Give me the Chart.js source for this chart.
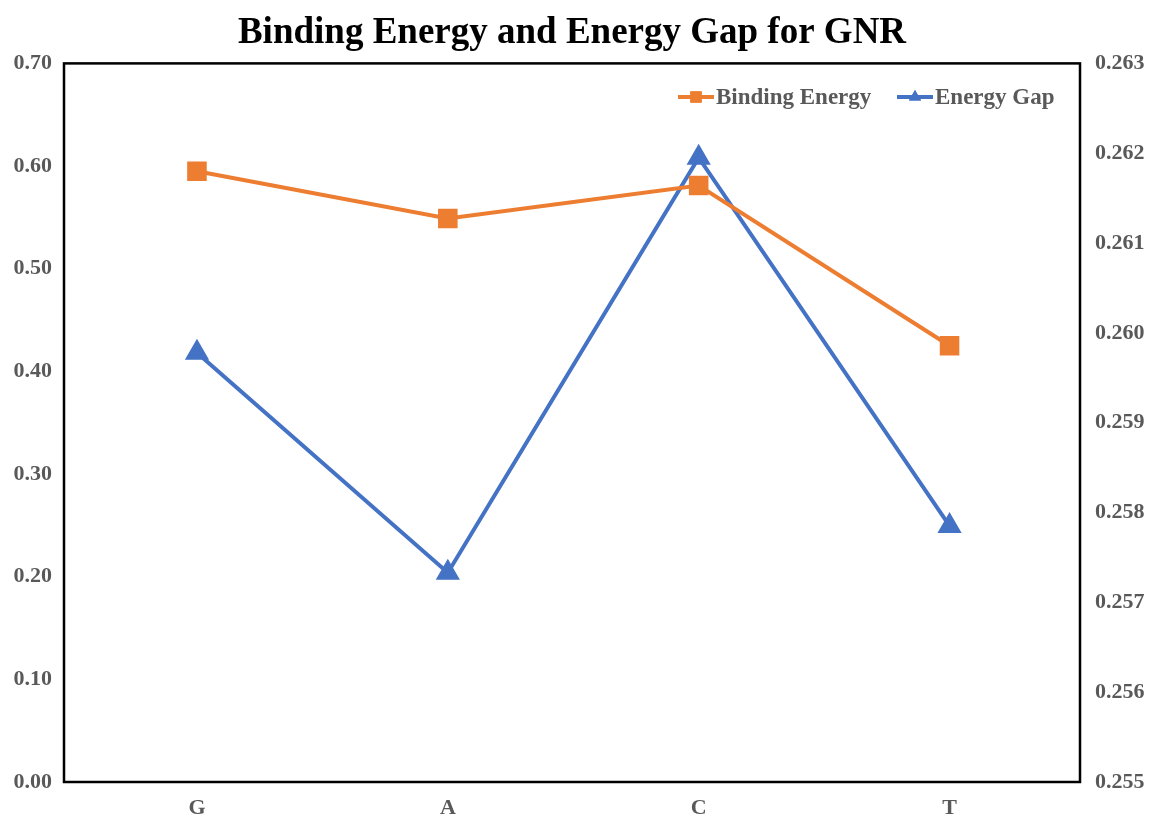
<!DOCTYPE html>
<html>
<head>
<meta charset="utf-8">
<script src="https://cdn.jsdelivr.net/npm/chart.js@4"></script>
<style>
  html, body { margin: 0; padding: 0; background: #fff; }
  #wrap { width: 1153px; height: 820px; }
</style>
</head>
<body>
<div id="wrap"><canvas id="chart-area" width="1153" height="820"></canvas></div>
<script>
var categories = ['G', 'A', 'C', 'T'];
var bindingEnergy = [0.595, 0.549, 0.581, 0.425];
var energyGap = [0.25978, 0.25733, 0.26195, 0.25785];
var leftTicks = [0.00, 0.10, 0.20, 0.30, 0.40, 0.50, 0.60, 0.70];
var rightTicks = [0.255, 0.256, 0.257, 0.258, 0.259, 0.260, 0.261, 0.262, 0.263];

var ORANGE = '#ED7D31';
var BLUE = '#4472C4';
var GREY = '#595959';
var FONT = "'Liberation Serif', 'Times New Roman', serif";

function points(vals) {
	return vals.map(function(v, i) { return { x: i, y: v }; });
}

// box round the plot + legend drawn inside the plot area
var boxAndLegend = {
	id: 'boxAndLegend',
	afterDraw: function(chart) {
		var ctx = chart.ctx, a = chart.chartArea;
		ctx.save();
		ctx.strokeStyle = '#000';
		ctx.lineWidth = 2.5;
		ctx.strokeRect(a.left, a.top, a.right - a.left, a.bottom - a.top);

		var items = [
			{ text: 'Binding Energy', color: ORANGE, style: 'rect', r: 8, x: 678 },
			{ text: 'Energy Gap', color: BLUE, style: 'triangle', r: 7, x: 897 }
		];
		var y = 97;
		ctx.font = 'bold 23px ' + FONT;
		ctx.textBaseline = 'middle';
		items.forEach(function(it) {
			ctx.strokeStyle = it.color;
			ctx.lineWidth = 4;
			ctx.beginPath();
			ctx.moveTo(it.x, y);
			ctx.lineTo(it.x + 36, y);
			ctx.stroke();
			ctx.fillStyle = it.color;
			Chart.helpers.drawPoint(ctx, { pointStyle: it.style, radius: it.r, rotation: 0 }, it.x + 18, y);
			ctx.fill();
			ctx.fillStyle = GREY;
			ctx.fillText(it.text, it.x + 38, y + 1);
		});
		ctx.restore();
	}
};

var config = {
	type: 'line',
	data: {
		datasets: [{
			label: 'Binding Energy',
			data: points(bindingEnergy),
			yAxisID: 'y',
			borderColor: ORANGE,
			backgroundColor: ORANGE,
			borderWidth: 4,
			pointStyle: 'rect',
			pointRadius: 11,
			pointHoverRadius: 11,
			tension: 0
		}, {
			label: 'Energy Gap',
			data: points(energyGap),
			yAxisID: 'y1',
			borderColor: BLUE,
			backgroundColor: BLUE,
			borderWidth: 4,
			pointStyle: 'triangle',
			pointRadius: 10,
			pointHoverRadius: 10,
			tension: 0
		}]
	},
	options: {
		responsive: false,
		animation: false,
		layout: { padding: 0 },
		plugins: {
			legend: { display: false },
			tooltip: { enabled: false },
			title: {
				display: true,
				fullSize: false,
				text: 'Binding Energy and Energy Gap for GNR',
				color: '#000',
				font: { family: FONT, size: 37, weight: 'bold' },
				padding: { top: 11, bottom: 8 }
			}
		},
		scales: {
			x: {
				type: 'linear',
				min: -0.53, max: 3.52,
				afterBuildTicks: function(s) { s.ticks = categories.map(function(c, i) { return { value: i }; }); },
				afterFit: function(s) { s.height = 38; },
				grid: { display: false, drawTicks: false },
				border: { display: false },
				ticks: {
					color: GREY, font: { family: FONT, size: 22, weight: 'bold' }, padding: 13,
					callback: function(v) { return categories[v]; }
				}
			},
			y: {
				position: 'left',
				min: 0, max: 0.7,
				afterBuildTicks: function(s) { s.ticks = leftTicks.map(function(v) { return { value: v }; }); },
				afterFit: function(s) { s.width = 64; },
				grid: { display: false, drawTicks: false },
				border: { display: false },
				ticks: {
					color: GREY, font: { family: FONT, size: 22, weight: 'bold' }, padding: 12,
					callback: function(v) { return v.toFixed(2); }
				}
			},
			y1: {
				position: 'right',
				min: 0.255, max: 0.263,
				afterBuildTicks: function(s) { s.ticks = rightTicks.map(function(v) { return { value: v }; }); },
				afterFit: function(s) { s.width = 73; },
				grid: { display: false, drawTicks: false },
				border: { display: false },
				ticks: {
					color: GREY, font: { family: FONT, size: 22, weight: 'bold' }, padding: 15,
					callback: function(v) { return v.toFixed(3); }
				}
			}
		}
	},
	plugins: [boxAndLegend]
};

var ctx = document.getElementById('chart-area').getContext('2d');
window.myLine = new Chart(ctx, config);
</script>
</body>
</html>
